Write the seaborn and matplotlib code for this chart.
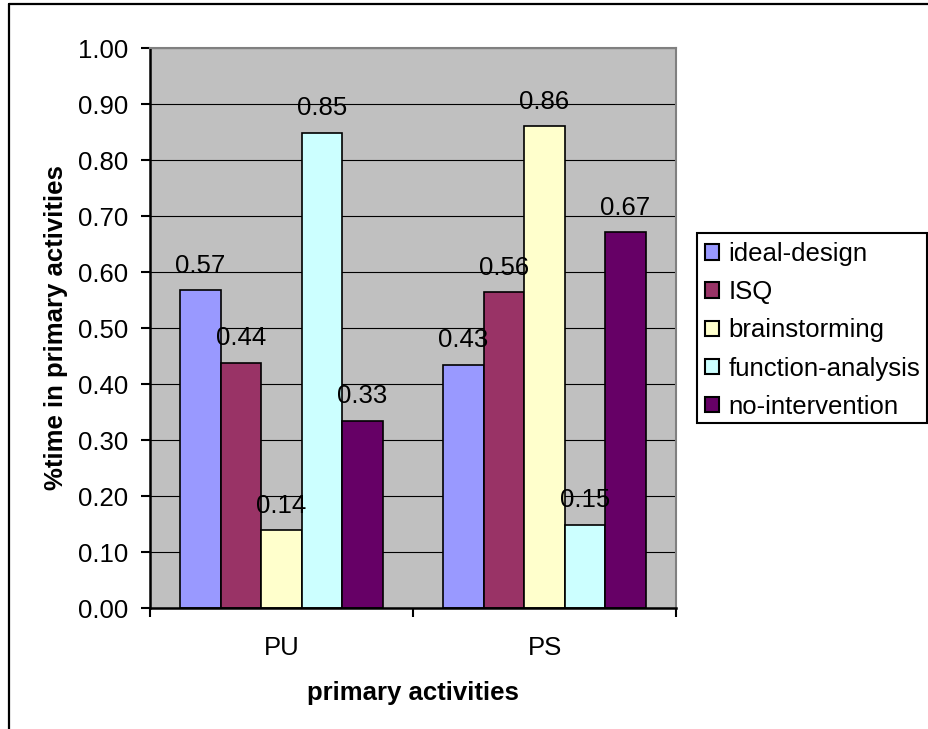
import matplotlib
matplotlib.use("Agg")
import matplotlib.pyplot as plt
from matplotlib.patches import Rectangle
from matplotlib.lines import Line2D
from matplotlib.ticker import FormatStrFormatter, FixedLocator
import seaborn as sns
import pandas as pd

categories = ["PU", "PS"]
series = ["ideal-design", "ISQ", "brainstorming", "function-analysis", "no-intervention"]
ideal_design = [0.567, 0.434]
isq = [0.438, 0.564]
brainstorming = [0.139, 0.860]
function_analysis = [0.849, 0.149]
no_intervention = [0.334, 0.671]
colors = ["#9999FF", "#993366", "#FFFFCC", "#CCFFFF", "#660066"]
yticks = [0.0, 0.1, 0.2, 0.3, 0.4, 0.5, 0.6, 0.7, 0.8, 0.9, 1.0]

values = [ideal_design, isq, brainstorming, function_analysis, no_intervention]
rows = []
for s, vals in zip(series, values):
    for c, v in zip(categories, vals):
        rows.append({"category": c, "series": s, "value": v})
df = pd.DataFrame(rows)

sns.set_style("white")
plt.rcParams["font.family"] = ["Liberation Sans", "DejaVu Sans"]
for key in ["text.color", "axes.labelcolor", "xtick.color", "ytick.color"]:
    plt.rcParams[key] = "black"

FS = 18.5
W, H = 929, 729
fig = plt.figure(figsize=(W / 100, H / 100), dpi=100)
ax = fig.add_axes([150 / W, (H - 608) / H, 526 / W, 560 / H])
ax.set_facecolor("#C0C0C0")

sns.barplot(data=df, x="category", y="value", hue="series", order=categories,
            hue_order=series, palette=colors, width=0.77, saturation=1,
            edgecolor="black", linewidth=1.2, ax=ax)

for cont in ax.containers:
    ax.bar_label(cont, fmt="%.2f", padding=9, fontsize=FS, color="black")

ax.set_xlim(-0.5, 1.5)
ax.set_ylim(0, 1.0)
ax.yaxis.set_major_locator(FixedLocator(yticks))
ax.yaxis.set_major_formatter(FormatStrFormatter("%.2f"))
ax.set_axisbelow(True)
ax.grid(axis="y", color="black", linewidth=0.8)
ax.grid(axis="x", visible=False)

ax.set_xticks([0, 1])
ax.set_xticklabels(categories)
ax.set_xticks([-0.5, 0.5, 1.5], minor=True)
ax.tick_params(axis="x", which="major", length=0, pad=20, labelsize=FS, labelcolor="black")
ax.tick_params(axis="x", which="minor", length=6.5, width=1.5, direction="out", color="black", bottom=True)
ax.tick_params(axis="y", which="major", length=6.5, width=1.5, direction="out", color="black", left=True, pad=9, labelsize=FS, labelcolor="black")

for side in ["left", "bottom"]:
    ax.spines[side].set_color("black")
    ax.spines[side].set_linewidth(1.8)
for side in ["top", "right"]:
    ax.spines[side].set_color("#808080")
    ax.spines[side].set_linewidth(1.5)

ax.set_xlabel("primary activities", fontsize=FS, fontweight="bold", va="center", color="black")
ax.xaxis.set_label_coords(0.5, -85 / 560)
ax.set_ylabel("%time in primary activities", fontsize=FS, fontweight="bold", va="center", ha="center", color="black")
ax.yaxis.set_label_coords(-94 / 526, 0.5)

handles, labels = ax.get_legend_handles_labels()
if ax.get_legend() is not None:
    ax.get_legend().remove()
leg = fig.legend(handles, labels, loc="upper left",
                 bbox_to_anchor=(700 / W, 1 - 237 / H), frameon=False,
                 fontsize=FS, handlelength=0.55, handleheight=0.55,
                 handletextpad=0.35, labelspacing=0.55, borderpad=0.2,
                 borderaxespad=0, labelcolor="black")
for h in leg.legend_handles:
    h.set_edgecolor("black")
    h.set_linewidth(1.5)

fig.add_artist(Rectangle((697 / W, 1 - 423 / H), 230 / W, (423 - 233) / H,
                         transform=fig.transFigure, fill=False,
                         edgecolor="black", linewidth=1.5))

fig.add_artist(Line2D([9 / W, 9 / W], [0, 1 - 4 / H], transform=fig.transFigure,
                      color="black", linewidth=1.6))
fig.add_artist(Line2D([9 / W, 1], [1 - 4 / H, 1 - 4 / H], transform=fig.transFigure,
                      color="black", linewidth=1.6))

fig.savefig("out.png", dpi=100)
